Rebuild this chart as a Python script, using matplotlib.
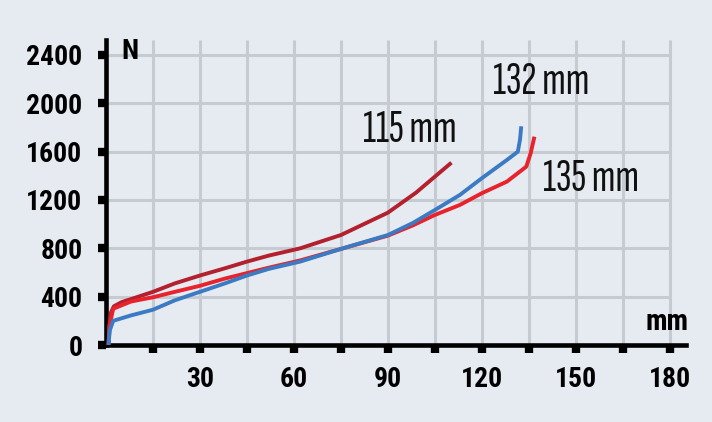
import matplotlib
matplotlib.use("Agg")
import matplotlib.pyplot as plt

# force-displacement curves (mm, N)
x_115 = [0.8, 1.0, 1.6, 2.5, 5, 8, 15, 22, 30, 38, 45, 52, 62, 75, 90, 99, 105, 110.3]
y_115 = [0, 150, 270, 320, 355, 380, 440, 510, 575, 635, 690, 740, 800, 910, 1095, 1261, 1393, 1509]

x_132 = [0.8, 1.2, 2.3, 8, 15, 22, 30, 38, 45, 52, 62, 75, 90, 98, 105, 113, 120, 128, 131.5, 132.2, 132.6]
y_132 = [0, 120, 200, 245, 292, 370, 440, 510, 575, 630, 690, 795, 910, 1010, 1117, 1242, 1380, 1531, 1600, 1700, 1810]

x_135 = [0.8, 1.2, 2.3, 8, 15, 22, 30, 38, 45, 52, 62, 75, 90, 98, 105, 113, 120, 128, 134.2, 135.6, 136.8]
y_135 = [0, 170, 300, 360, 395, 440, 490, 550, 595, 640, 700, 795, 905, 990, 1076, 1159, 1256, 1352, 1476, 1587, 1724]

labels = ["115 mm", "132 mm", "135 mm"]
label_pos = [(97.0, 1776), (139.0, 2169), (154.8, 1370)]

x_ticks = [30, 60, 90, 120, 150, 180]
x_minor = [15, 45, 75, 105, 135, 165]
y_ticks = [0, 400, 800, 1200, 1600, 2000, 2400]

bg = "#e6ebf1"
grid_col = "#c5cbd1"
bold_font = ["Roboto Condensed", "Archivo Narrow", "DejaVu Sans"]
thin_font = ["Sofia Sans Extra Condensed", "Pathway Gothic One", "DejaVu Sans"]

fig = plt.figure(figsize=(7.12, 4.22), dpi=100, facecolor=bg)
ax = fig.add_axes([106 / 712, 1 - 345 / 422, 580 / 712, 305 / 422])
ax.set_facecolor(bg)
ax.set_xlim(0, 185.2)
ax.set_ylim(0, 2524)

# grid only spans up to 180 mm
ax.vlines(x_ticks + x_minor, 0, 2524, color=grid_col, lw=2.2, zorder=1)
ax.hlines(y_ticks[1:], 0, 180, color=grid_col, lw=2.2, zorder=1)

style = dict(lw=2.8, solid_joinstyle="round", solid_capstyle="butt")
ax.plot(x_115, y_115, color="#b3202e", zorder=3, **style)
ax.plot(x_135, y_135, color="#e8232c", zorder=3, **style)
ax.plot(x_132, y_132, color="#3b7bc3", zorder=4, **style)

for text, (tx, ty) in zip(labels, label_pos):
    ax.text(tx, ty, text, ha="center", va="center", fontsize=33,
            family=thin_font, fontstretch="condensed", color="#111111")

for s in ["top", "right"]:
    ax.spines[s].set_visible(False)
for s in ["left", "bottom"]:
    ax.spines[s].set_linewidth(3.3)
    ax.spines[s].set_color("black")

ax.set_xticks(x_ticks)
ax.set_xticks(x_minor, minor=True)
ax.set_yticks(y_ticks)
ax.tick_params(axis="both", which="both", length=6, width=6, color="black")
ax.tick_params(axis="x", pad=9)
ax.tick_params(axis="y", pad=11)
for lab in ax.get_xticklabels() + ax.get_yticklabels():
    lab.set_fontfamily(bold_font)
    lab.set_fontweight("bold")
    lab.set_fontstretch("condensed")
    lab.set_fontsize(20)

ax.text(7.7, 2425, "N", ha="center", va="center", fontsize=20,
        fontweight="bold", family=bold_font, fontstretch="condensed")
ax.text(179, 190, "mm", ha="center", va="center", fontsize=21,
        fontweight="bold", family=bold_font, fontstretch="condensed")

fig.savefig("out.png", dpi=100, facecolor=bg)
